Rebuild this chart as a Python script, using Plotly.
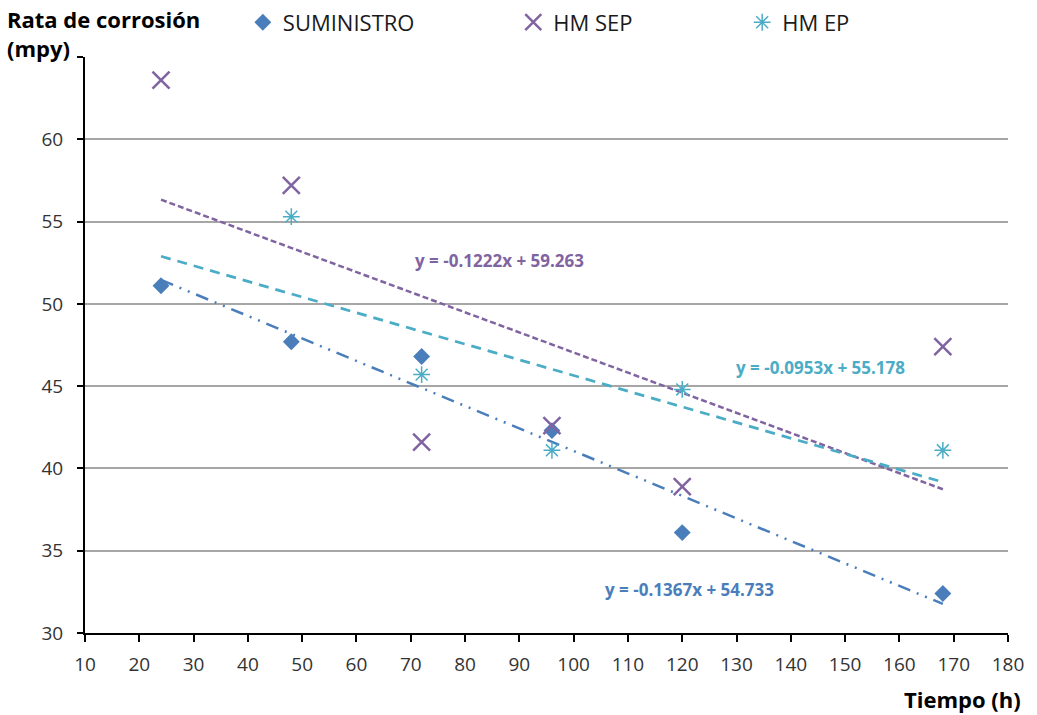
import plotly.graph_objects as go

# Corrosion rate (mpy) vs exposure time (h)
tiempo = [24, 48, 72, 96, 120, 168]
suministro = [51.1, 47.7, 46.8, 42.3, 36.1, 32.4]
hm_sep = [63.6, 57.2, 41.6, 42.6, 38.9, 47.4]
hm_ep = [None, 55.3, 45.7, 41.1, 44.8, 41.1]

# Linear trend coefficients (slope, intercept)
trend_suministro = (-0.1367, 54.733)
trend_hm_sep = (-0.1222, 59.263)
trend_hm_ep = (-0.0953, 55.178)
trend_x = [24, 168]

x_ticks = list(range(10, 181, 10))
y_ticks = [30, 35, 40, 45, 50, 55, 60, 65]
y_labels = ["30", "35", "40", "45", "50", "55", "60", ""]

C_BLUE = "#4A7EBB"
C_PURPLE = "#8064A2"
C_CYAN = "#4BACC6"
FONT = "Open Sans"

fig = go.Figure()


def trend(coef):
    m, b = coef
    return [m * x + b for x in trend_x]


fig.add_trace(go.Scatter(x=trend_x, y=trend(trend_suministro), mode="lines",
                         line=dict(color=C_BLUE, width=2.5, dash="13px,7px,2px,7px,2px,7px"),
                         showlegend=False, hoverinfo="skip"))
fig.add_trace(go.Scatter(x=trend_x, y=trend(trend_hm_sep), mode="lines",
                         line=dict(color=C_PURPLE, width=2.5, dash="6px,3px"),
                         showlegend=False, hoverinfo="skip"))
fig.add_trace(go.Scatter(x=trend_x, y=trend(trend_hm_ep), mode="lines",
                         line=dict(color=C_CYAN, width=2.75, dash="10px,7px"),
                         showlegend=False, hoverinfo="skip"))

fig.add_trace(go.Scatter(x=tiempo, y=suministro, mode="markers", name="SUMINISTRO",
                         marker=dict(symbol="diamond", size=13, color=C_BLUE),
                         legend="legend"))
fig.add_trace(go.Scatter(x=tiempo, y=hm_sep, mode="markers", name="HM SEP",
                         marker=dict(symbol="x-thin-open", size=17, color=C_PURPLE,
                                     line=dict(color=C_PURPLE, width=2.5)),
                         legend="legend2"))
fig.add_trace(go.Scatter(x=tiempo, y=hm_ep, mode="markers", name="HM EP",
                         marker=dict(symbol="asterisk-open", size=14, color=C_CYAN,
                                     line=dict(color=C_CYAN, width=1.5)),
                         legend="legend3"))

legend_common = dict(orientation="h", yanchor="middle", xanchor="left",
                     font=dict(family=FONT, size=22, color="#1a1a1a"),
                     bgcolor="rgba(0,0,0,0)", borderwidth=0)

eq_font = dict(family=FONT, size=17)


def eq_text(coef):
    m, b = coef
    return f"<b>y = {m:.4f}x + {b:.3f}</b>"


fig.update_layout(
    width=1037, height=715,
    margin=dict(l=85, r=29, t=57, b=82, autoexpand=False),
    plot_bgcolor="white", paper_bgcolor="white",
    font=dict(family=FONT, size=19, color="#333333"),
    xaxis=dict(range=[10, 180], tickvals=x_ticks, showgrid=False, zeroline=False,
               showline=True, linecolor="black", linewidth=2,
               ticks="outside", ticklen=7, tickwidth=1.5, tickcolor="black",
               ticklabelstandoff=6,
               tickfont=dict(family=FONT, size=19, color="#333333")),
    yaxis=dict(range=[30, 65], tickvals=y_ticks, ticktext=y_labels,
               showgrid=True, gridcolor="#A6A6A6", gridwidth=1.5, zeroline=False,
               showline=True, linecolor="black", linewidth=2,
               ticks="outside", ticklen=6, tickwidth=1.5, tickcolor="black",
               ticklabelstandoff=10,
               tickfont=dict(family=FONT, size=19, color="#333333")),
    legend=dict(x=0.171, y=1.06, **legend_common),
    legend2=dict(x=0.464, y=1.06, **legend_common),
    legend3=dict(x=0.712, y=1.06, **legend_common),
    annotations=[
        dict(text="<b>Rata de corrosión<br>(mpy)</b>", xref="paper", yref="paper",
             x=-0.087, y=1.095, xanchor="left", yanchor="top", align="left",
             showarrow=False, font=dict(family=FONT, size=22, color="black")),
        dict(text="<b>Tiempo (h)</b>", xref="paper", yref="paper",
             x=1.016, y=-0.085, xanchor="right", yanchor="top",
             showarrow=False, font=dict(family=FONT, size=22, color="black")),
        dict(text=eq_text(trend_hm_sep), x=86.4, y=52.65, showarrow=False,
             font=dict(color=C_PURPLE, **eq_font)),
        dict(text=eq_text(trend_hm_ep), x=145.4, y=46.15, showarrow=False,
             font=dict(color=C_CYAN, **eq_font)),
        dict(text=eq_text(trend_suministro), x=121.4, y=32.67, showarrow=False,
             font=dict(color=C_BLUE, **eq_font)),
    ],
)

fig.write_html("out.html")
